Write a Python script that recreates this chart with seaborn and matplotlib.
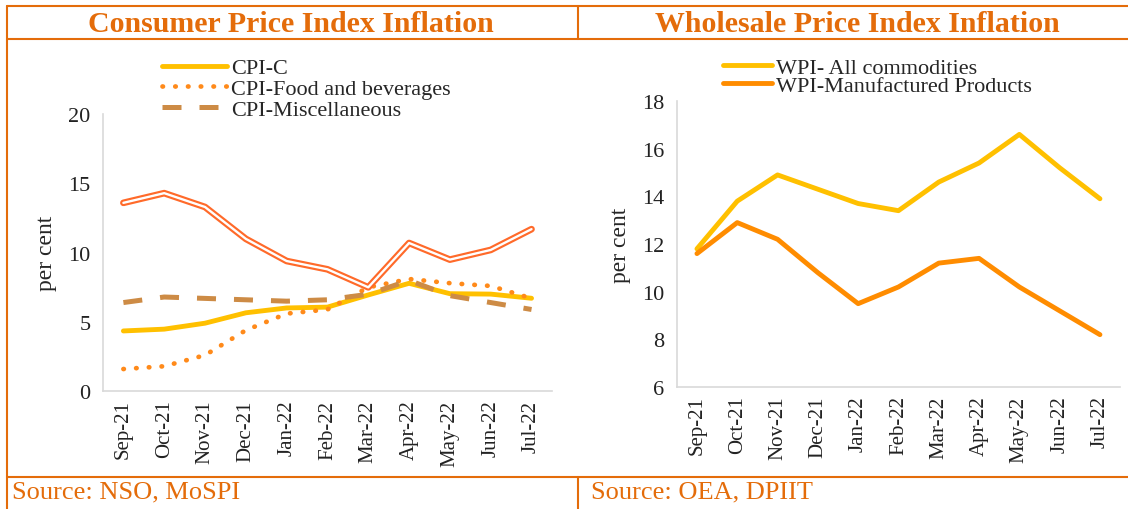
import matplotlib
matplotlib.use("Agg")
import matplotlib.pyplot as plt
import matplotlib.patheffects as pe
from matplotlib.lines import Line2D
import seaborn as sns
import numpy as np
import pandas as pd

months = ['Sep-21', 'Oct-21', 'Nov-21', 'Dec-21', 'Jan-22', 'Feb-22',
          'Mar-22', 'Apr-22', 'May-22', 'Jun-22', 'Jul-22']

# CPI series (per cent)
cpi_c = [4.35, 4.48, 4.91, 5.66, 6.01, 6.07, 6.95, 7.79, 7.04, 7.01, 6.71]
cpi_food = [1.6, 1.8, 2.6, 4.4, 5.6, 5.9, 7.5, 8.1, 7.8, 7.6, 6.7]
cpi_misc = [6.4, 6.8, 6.7, 6.6, 6.5, 6.6, 7.0, 8.0, 6.9, 6.4, 5.9]
cpi_fuel = [13.6, 14.3, 13.3, 11.0, 9.4, 8.8, 7.5, 10.7, 9.5, 10.2, 11.7]

# WPI series (per cent)
wpi_all = [11.8, 13.8, 14.9, 14.3, 13.7, 13.4, 14.6, 15.4, 16.6, 15.2, 13.9]
wpi_mfg = [11.6, 12.9, 12.2, 10.8, 9.5, 10.2, 11.2, 11.4, 10.2, 9.2, 8.2]

ORANGE = '#E46C0A'
SERIF = 'Liberation Serif'

sns.set_style('white')
plt.rcParams['font.family'] = [SERIF, 'DejaVu Serif']

df = pd.DataFrame({'pos': np.arange(len(months)), 'month': months,
                   'cpi_c': cpi_c, 'cpi_food': cpi_food, 'cpi_misc': cpi_misc,
                   'cpi_fuel': cpi_fuel, 'wpi_all': wpi_all, 'wpi_mfg': wpi_mfg})

fig = plt.figure(figsize=(11.28, 5.1), dpi=100)
ax1 = fig.add_axes([0.0913, 0.231, 0.398, 0.5431])
ax2 = fig.add_axes([0.600, 0.239, 0.393, 0.561])

# CPI panel
sns.lineplot(data=df, x='pos', y='cpi_c', ax=ax1, color='#FFC000', lw=3.5,
             solid_capstyle='round', label='CPI-C')
sns.lineplot(data=df, x='pos', y='cpi_food', ax=ax1, color='#FF8A1A', lw=3.4,
             linestyle=(0, (0.1, 2.6)), dash_capstyle='round',
             label='CPI-Food and beverages')
sns.lineplot(data=df, x='pos', y='cpi_misc', ax=ax1, color='#CD8B45', lw=3.6,
             linestyle=(0, (3.8, 3.6)), label='CPI-Miscellaneous')
sns.lineplot(data=df, x='pos', y='cpi_fuel', ax=ax1, color='white', lw=1.7,
             solid_capstyle='round',
             path_effects=[pe.Stroke(linewidth=4.8, foreground='#FF6A2A',
                                     capstyle='round'), pe.Normal()],
             label='_nolegend_')
ax1.set_ylim(0, 20)
ax1.set_yticks([0, 5, 10, 15, 20])

# WPI panel
sns.lineplot(data=df, x='pos', y='wpi_all', ax=ax2, color='#FFC000', lw=3.5,
             solid_capstyle='round', label='WPI- All commodities')
sns.lineplot(data=df, x='pos', y='wpi_mfg', ax=ax2, color='#FF8C00', lw=3.5,
             solid_capstyle='round', label='WPI-Manufactured Products')
ax2.set_ylim(6, 18)
ax2.set_yticks([6, 8, 10, 12, 14, 16, 18])

for ax in (ax1, ax2):
    ax.set_xlim(-0.5, len(months) - 0.5)
    ax.set_xticks(np.arange(len(months)))
    ax.set_xticklabels(months, rotation=90, fontsize=15, color='#222222')
    ax.set_xticks(np.arange(len(months) + 1) - 0.5, minor=True)
    ax.tick_params(axis='x', which='major', length=0, pad=6)
    ax.tick_params(axis='x', which='minor', length=6, color='#d9d9d9', width=1)
    ax.tick_params(axis='y', length=5, color='#d9d9d9', width=1,
                   labelsize=16, pad=4, labelcolor='#222222')
    ax.set_xlabel('')
    ax.set_ylabel('per cent', fontsize=17, labelpad=8)
    for s in ('top', 'right'):
        ax.spines[s].set_visible(False)
    for s in ('left', 'bottom'):
        ax.spines[s].set_color('#d9d9d9')
        ax.spines[s].set_linewidth(1.2)
    ax.get_legend().remove()

h1, l1 = ax1.get_legend_handles_labels()
fig.legend(h1, l1, loc='upper left', bbox_to_anchor=(0.136, 0.902),
           frameon=False, fontsize=16, handlelength=2.9, handletextpad=0.2,
           labelspacing=0.0, borderaxespad=0)
h2, l2 = ax2.get_legend_handles_labels()
fig.legend(h2, l2, loc='upper left', bbox_to_anchor=(0.633, 0.903),
           frameon=False, fontsize=16, handlelength=2.2, handletextpad=0.2,
           labelspacing=-0.12, borderaxespad=0)

# titles and sources
fig.text(0.258, 0.952, 'Consumer Price Index Inflation', ha='center',
         va='center', color=ORANGE, fontsize=21.5, fontweight='bold')
fig.text(0.760, 0.952, 'Wholesale Price Index Inflation', ha='center',
         va='center', color=ORANGE, fontsize=21.5, fontweight='bold')
fig.text(0.011, 0.034, 'Source: NSO, MoSPI', ha='left', va='center',
         color=ORANGE, fontsize=19)
fig.text(0.524, 0.034, 'Source: OEA, DPIIT', ha='left', va='center',
         color=ORANGE, fontsize=19)

# table-like frame
frame = [([0.006, 1.0], [0.986, 0.986]),
         ([0.006, 1.0], [0.922, 0.922]),
         ([0.006, 1.0], [0.063, 0.063]),
         ([0.006, 0.006], [0.0, 0.986]),
         ([0.512, 0.512], [0.922, 0.986]),
         ([0.512, 0.512], [0.0, 0.063])]
for xs, ys in frame:
    fig.add_artist(Line2D(xs, ys, color=ORANGE, lw=1.5,
                          transform=fig.transFigure))

fig.savefig('out.png', dpi=100)
